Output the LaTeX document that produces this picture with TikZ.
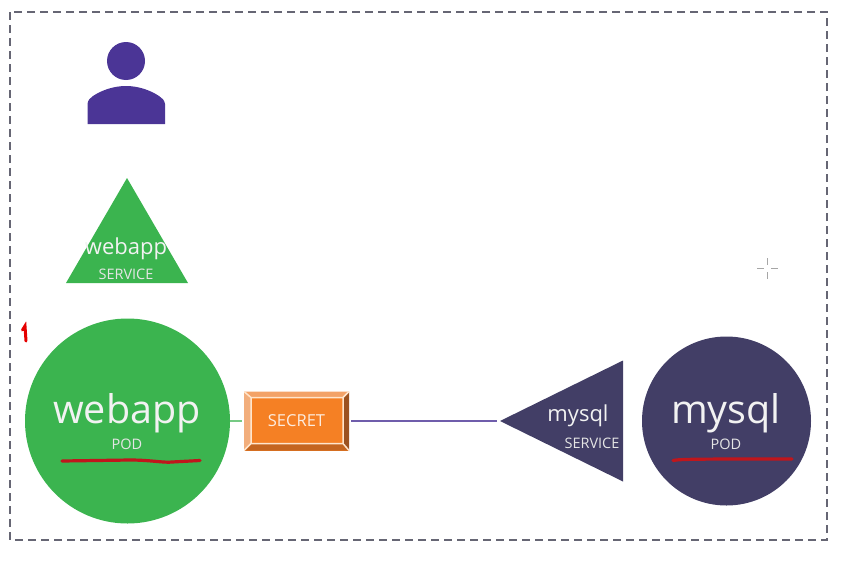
\documentclass[tikz,border=0pt]{standalone}
\usepackage{fontspec}
\setmainfont{Open Sans}
\usetikzlibrary{shapes,shapes.geometric,calc,positioning}
\definecolor{podgreen}{HTML}{3BB44F}
\definecolor{dbnavy}{HTML}{423E66}
\definecolor{userviolet}{HTML}{4B3596}
\definecolor{secretorange}{HTML}{F58024}
\definecolor{beveltop}{HTML}{F3A267}
\definecolor{bevelleft}{HTML}{F2AE7C}
\definecolor{bevelright}{HTML}{9C5220}
\definecolor{bevelbottom}{HTML}{C4651F}
\definecolor{markred}{HTML}{C0161C}
\definecolor{frameslate}{HTML}{666674}
\tikzset{
  podnode/.style = {circle, inner sep=0pt, outer sep=0pt},
  svcnode/.style = {isosceles triangle, isosceles triangle stretches, inner sep=0pt, outer sep=0pt, anchor=apex},
  bigtext/.style = {inner sep=0pt, text=white!95!black, font=\fontsize{39.5}{44}\selectfont},
  midtext/.style = {inner sep=0pt, text=white!95!black, font=\fontsize{22}{26}\selectfont},
  smalltext/.style = {inner sep=0pt, text=white!90!black, font=\fontsize{14.5}{17}\selectfont},
  redmark/.style = {draw=markred, line width=3.2pt, line cap=round, line join=round},
  bevelbox/.style={
    rectangle, fill=secretorange, minimum width=105pt, minimum height=59pt,
    inner sep=0pt, outer sep=0pt, text=white!85!secretorange,
    font=\fontsize{16.5}{20}\selectfont,
    path picture = {
      \coordinate (nw) at (path picture bounding box.north west);
      \coordinate (ne) at (path picture bounding box.north east);
      \coordinate (sw) at (path picture bounding box.south west);
      \coordinate (se) at (path picture bounding box.south east);
      \fill[beveltop] (nw) -- (ne) -- ++(-6,6) -- ($(nw)+(7,6)$) -- cycle;
      \fill[bevelleft] (nw) -- (sw) -- ++(7,-7) -- ($(nw)+(7,6)$) -- cycle;
      \fill[bevelright] (ne) -- (se) -- ++(-6,-7) -- ($(ne)+(-6,6)$) -- cycle;
      \fill[bevelbottom] (sw) -- (se) -- ++(-6,-7) -- ($(sw)+(7,-7)$) -- cycle;
      \draw[white!80!orange, line width=1.5pt]
        ($(nw)+(7,6)$) rectangle ($(se)+(-6,-7)$)
        (nw) -- ++(7,6) (ne) -- ++(-6,6) (sw) -- ++(7,-7) (se) -- ++(-6,-7);
    }
  }
}
\begin{document}
\begin{tikzpicture}[x=1pt,y=-1pt]
\useasboundingbox (0,0) rectangle (848,562);
\draw[frameslate, line width=2pt, dash pattern=on 8pt off 5pt] (10,12) rectangle (827,540);

% user
\fill[userviolet] (126,61) circle (19);
\fill[userviolet] (87.5,124) -- (87.5,104) .. controls (88,100) and (90,98) .. (93,96)
  .. controls (102,90) and (114,86) .. (126,86)
  .. controls (138,86) and (150,90) .. (159,96)
  .. controls (162,98) and (164.5,100) .. (165,104) -- (165,124) -- cycle;

% services
\node[svcnode, fill=podgreen, shape border rotate=90, minimum height=105pt, minimum width=122pt] (websvc) at (127,178) {};
\node[midtext] (websvcname) at (126,249) {webapp};
\node[smalltext, below=9pt of websvcname] (websvckind) {SERVICE};

\node[svcnode, fill=dbnavy, shape border rotate=180, minimum height=123pt, minimum width=121pt] (dbsvc) at (500,421) {};
\node[midtext] (dbsvcname) at (578,416) {mysql};
\node[smalltext] (dbsvckind) at (592,443) {SERVICE};

% pods
\node[podnode, fill=podgreen, minimum size=205pt] (webpod) at (127.5,421) {};
\node[bigtext] (webpodname) at (127,413) {webapp};
\node[smalltext] (webpodkind) at (127,444) {POD};

\node[podnode, fill=dbnavy, minimum size=169pt] (dbpod) at (726.5,421) {};
\node[bigtext] (dbpodname) at (726,413) {mysql};
\node[smalltext] (dbpodkind) at (726,444) {POD};

% secret
\node[bevelbox] (secret) at (296.5,421) {SECRET};
\draw[podgreen!70!white, line width=1.6pt, shorten >=2pt] (webpod) -- (secret);
\draw[userviolet!80!white, line width=1.6pt, shorten <=2pt, shorten >=3pt] (secret) -- (dbsvc.apex);

% pen marks
\draw[redmark] (62,461) -- (130,460) .. controls (150,460) and (165,463) .. (172,462) -- (200,460.5);
\draw[redmark] (673,460.5) .. controls (680,459) and (700,459) .. (792,459);
\draw[red!90!black, line width=3pt, line cap=round] (22.5,330) -- (25,326) -- (26,341);

% cursor
\draw[gray!70, line width=1.2pt]
  (757,268.5) -- (764,268.5) (771,268.5) -- (778,268.5)
  (767.5,258) -- (767.5,265) (767.5,272) -- (767.5,279);
\end{tikzpicture}
\end{document}
